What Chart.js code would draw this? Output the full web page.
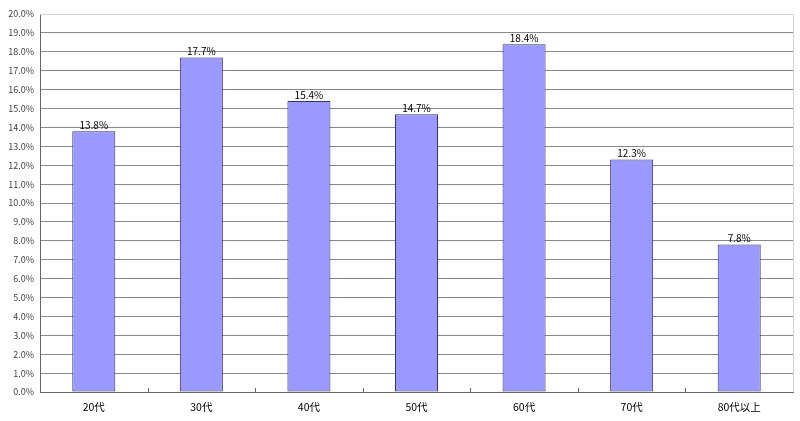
<!DOCTYPE html>
<html><head><meta charset="utf-8">
<script src="https://cdn.jsdelivr.net/npm/chart.js@4/dist/chart.umd.min.js"></script>
<style>html,body{margin:0;padding:0;background:#fff}#wrap{width:800px;height:421px}</style>
</head><body><div id="wrap"><canvas id="c"></canvas></div>
<script>
const categories = ['20代','30代','40代','50代','60代','70代','80代以上'];
const values = [13.8, 17.7, 15.4, 14.7, 18.4, 12.3, 7.8];
const yMin = 0, yMax = 20, yStep = 1;

const FONT = '"Noto Sans CJK JP","DejaVu Sans",sans-serif';

const labelPlugin = {
  id: 'barLabels',
  afterDatasetsDraw(chart) {
    const ctx = chart.ctx;
    const meta = chart.getDatasetMeta(0);
    ctx.save();
    ctx.font = '10px ' + FONT;
    ctx.fillStyle = '#000';
    ctx.textAlign = 'center';
    ctx.textBaseline = 'bottom';
    meta.data.forEach((bar, i) => {
      ctx.fillText(values[i].toFixed(1) + '%', bar.x, bar.y - 1);
    });
    const xs = chart.scales.x, area = chart.chartArea;
    ctx.strokeStyle = '#666';
    ctx.lineWidth = 1;
    for (let i = 1; i < categories.length; i++) {
      const x = Math.round((xs.getPixelForValue(i - 1) + xs.getPixelForValue(i)) / 2) + 0.5;
      ctx.beginPath();
      ctx.moveTo(x, area.bottom);
      ctx.lineTo(x, area.bottom - 4);
      ctx.stroke();
    }
    ctx.strokeStyle = '#d0d0d0';
    ctx.beginPath();
    ctx.moveTo(area.left, area.top + 0.5);
    ctx.lineTo(area.right + 0.5, area.top + 0.5);
    ctx.lineTo(area.right + 0.5, area.bottom);
    ctx.stroke();
    ctx.restore();
  }
};

new Chart(document.getElementById('c'), {
  type: 'bar',
  data: {
    labels: categories,
    datasets: [{
      data: values,
      backgroundColor: '#9999FF',
      borderColor: '#333366',
      borderWidth: 1,
      borderSkipped: false,
      categoryPercentage: 1,
      barPercentage: 0.4
    }]
  },
  options: {
    responsive: true,
    maintainAspectRatio: false,
    animation: false,
    devicePixelRatio: 1,
    layout: { padding: { top: 14, right: 7, left: 0, bottom: 0 } },
    plugins: { legend: { display: false }, tooltip: { enabled: false } },
    scales: {
      x: {
        grid: { display: false, drawTicks: false },
        border: { color: '#666', width: 1 },
        ticks: { color: '#000', font: { family: FONT, size: 10.5 }, padding: 9 },
        afterFit(s) { s.height = 29; }
      },
      y: {
        min: yMin, max: yMax,
        grid: { color: '#888', drawTicks: false },
        border: { color: '#666', width: 1 },
        ticks: {
          stepSize: yStep,
          color: '#444',
          font: { family: FONT, size: 9 },
          padding: 6,
          callback: v => v.toFixed(1) + '%'
        },
        afterFit(s) { s.width = 40; }
      }
    }
  },
  plugins: [labelPlugin]
});
</script></body></html>
